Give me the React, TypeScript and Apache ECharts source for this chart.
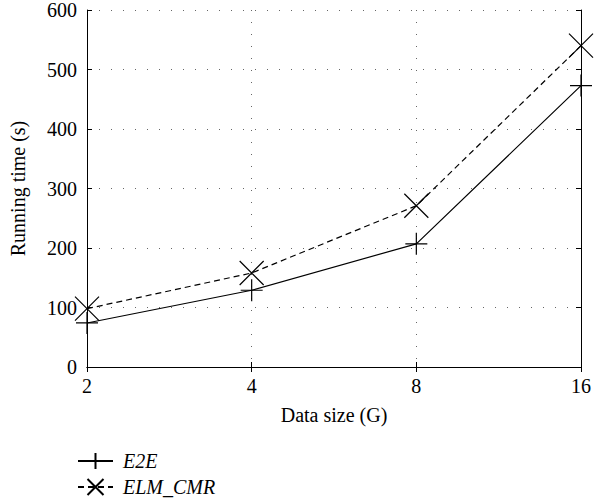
import React, { useEffect, useRef } from "react";
import * as echarts from "echarts";

const categories = ["2", "4", "8", "16"];
const e2e = [74, 129, 207, 473];
const elmCmr = [98, 158, 271, 540];
const yTicks = { min: 0, max: 600, interval: 100 };

const FONT = "Liberation Serif";

export default function App() {
  const ref = useRef<HTMLDivElement>(null);
  useEffect(() => {
    const chart = echarts.init(ref.current!, null, { renderer: "svg" });
    const plus = "path://M0,10L20,10M10,0L10,20";
    const cross = "path://M0,0L20,20M20,0L0,20";
    const tickCommon = { show: true, inside: true, length: 5, lineStyle: { color: "#000", width: 1 } };
    chart.setOption({
      animation: false,
      backgroundColor: "#fff",
      textStyle: { fontFamily: FONT },
      grid: { left: 77, right: 11, top: 8, bottom: 137, containLabel: false },
      legend: {
        orient: "vertical",
        left: 77,
        top: 451,
        padding: 0,
        itemWidth: 35,
        itemHeight: 20,
        itemGap: 6,
        textStyle: { fontFamily: FONT, fontStyle: "italic", fontSize: 20, color: "#000", padding: [0, 0, 0, 5] },
        data: ["E2E", "ELM_CMR"],
      },
      xAxis: [
        {
          type: "category",
          data: categories,
          boundaryGap: false,
          name: "Data size (G)",
          nameLocation: "middle",
          nameGap: 38,
          nameTextStyle: { fontFamily: FONT, fontSize: 20, color: "#000" },
          axisLine: { show: true, lineStyle: { color: "#000", width: 1 } },
          axisTick: { ...tickCommon, alignWithLabel: true },
          axisLabel: { fontFamily: FONT, fontSize: 20, color: "#000", margin: 9 },
          splitLine: { show: true, lineStyle: { color: "#666", type: [1, 11], width: 1 } },
        },
        {
          type: "category",
          data: categories,
          boundaryGap: false,
          position: "top",
          axisLine: { show: true, lineStyle: { color: "#000", width: 1 } },
          axisTick: tickCommon,
          axisLabel: { show: false },
          splitLine: { show: false },
        },
      ],
      yAxis: [
        {
          type: "value",
          ...yTicks,
          name: "Running time (s)",
          nameLocation: "middle",
          nameGap: 59,
          nameTextStyle: { fontFamily: FONT, fontSize: 20, color: "#000" },
          axisLine: { show: true, lineStyle: { color: "#000", width: 1 } },
          axisTick: tickCommon,
          axisLabel: { fontFamily: FONT, fontSize: 20, color: "#000", margin: 10 },
          splitLine: { show: true, lineStyle: { color: "#666", type: [1, 11], width: 1 } },
        },
        {
          type: "value",
          ...yTicks,
          position: "right",
          axisLine: { show: true, lineStyle: { color: "#000", width: 1 } },
          axisTick: tickCommon,
          axisLabel: { show: false },
          splitLine: { show: false },
        },
      ],
      series: [
        {
          name: "E2E",
          type: "line",
          data: e2e,
          symbol: plus,
          symbolSize: 22,
          clip: false,
          lineStyle: { color: "#000", width: 1.2, type: "solid" },
          itemStyle: { color: "#000", borderColor: "#000", borderWidth: 1.2 },
        },
        {
          name: "ELM_CMR",
          type: "line",
          data: elmCmr,
          symbol: cross,
          symbolSize: 24,
          clip: false,
          lineStyle: { color: "#000", width: 1.2, type: [6, 4] },
          itemStyle: { color: "#000", borderColor: "#000", borderWidth: 1.2, borderType: "solid" },
        },
      ],
    });
    return () => chart.dispose();
  }, []);
  return <div ref={ref} style={{ width: 594, height: 504, position: "absolute", left: 0, top: 0 }} />;
}
